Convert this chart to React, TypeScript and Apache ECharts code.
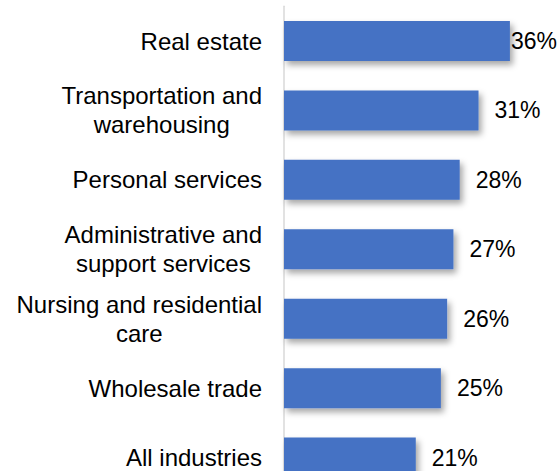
import React, { useEffect, useRef } from "react";
import * as echarts from "echarts";

const categories = [
  "Real estate",
  "Transportation and\nwarehousing",
  "Personal services",
  "Administrative and\nsupport services",
  "Nursing and residential\ncare",
  "Wholesale trade",
  "All industries",
];
const values = [36, 31, 28, 27, 26, 25, 21];
const labelDistances = [1, 16, 16, 16, 16, 16, 16];

export default function App() {
  const ref = useRef<HTMLDivElement>(null);
  useEffect(() => {
    if (!ref.current) return;
    const chart = echarts.init(ref.current, null, { renderer: "svg" });
    chart.setOption({
      animation: false,
      grid: { left: 284, right: 23, top: 6.3, bottom: 13.7, containLabel: false },
      xAxis: { type: "value", min: 0, max: 40, show: false },
      yAxis: {
        type: "category",
        data: categories,
        inverse: true,
        axisLine: { show: true, lineStyle: { color: "#d9d9d9", width: 1.5 } },
        axisTick: { show: false },
        axisLabel: {
          margin: 22,
          align: "right",
          color: "#000",
          fontFamily: "Liberation Sans",
          fontSize: 24,
          lineHeight: 29,
          formatter: (v: string) =>
            v
              .split("\n")
              .map((l) => `{c|${l}}`)
              .join("\n"),
          rich: {
            c: {
              align: "center",
              color: "#000",
              fontFamily: "Liberation Sans",
              fontSize: 24,
              lineHeight: 29,
            },
          },
        },
      },
      series: [
        {
          type: "bar",
          barWidth: 40,
          data: values.map((v, i) => ({
            value: v,
            label: { distance: labelDistances[i] },
          })),
          itemStyle: {
            color: "#4472C4",
            shadowColor: "rgba(0,0,0,0.35)",
            shadowBlur: 6,
            shadowOffsetX: 3,
            shadowOffsetY: 4,
          },
          label: {
            show: true,
            position: "right",
            formatter: "{c}%",
            color: "#000",
            fontFamily: "Liberation Sans",
            fontSize: 23,
          },
        },
      ],
    });
    return () => chart.dispose();
  }, []);
  return (
    <div
      style={{
        position: "fixed",
        left: 0,
        top: 0,
        width: 558,
        height: 471,
        overflow: "hidden",
        background: "#fff",
      }}
    >
      <div ref={ref} style={{ width: 558, height: 506 }} />
    </div>
  );
}
